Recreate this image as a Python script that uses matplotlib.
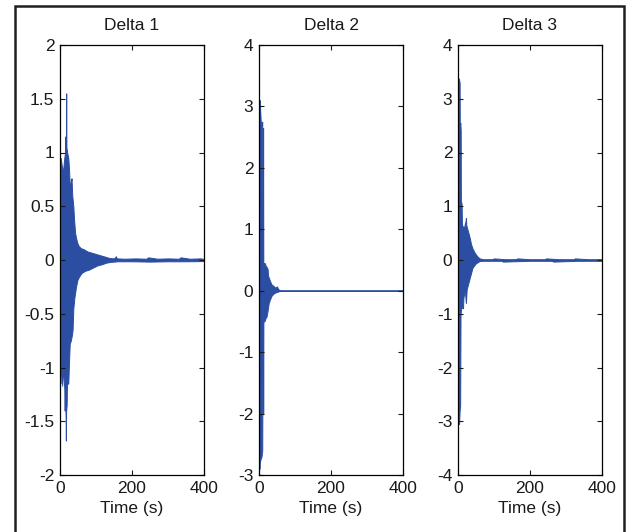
import numpy as np
import matplotlib.pyplot as plt
from matplotlib.patches import Rectangle

# Envelope of the three responses (time in s, value)
# Delta 1
d1_t_up = [0, 2, 4, 6, 9, 12, 14, 15, 16, 16.6, 17.2, 17.8, 20, 23, 25, 27, 30, 32, 34, 37, 39,
           42, 45, 48, 52, 58, 66, 76, 86, 96, 106, 116, 126, 136, 148, 152, 155, 158, 180,
           210, 240, 245, 270, 300, 330, 335, 360, 390, 400]
d1_up = [0.9, 0.95, 0.9, 0.85, 0.85, 0.95, 1.0, 1.15, 1.0, 1.1, 1.55, 1.05, 1.0, 0.95, 0.85,
         0.7, 0.72, 0.76, 0.6, 0.5, 0.38, 0.25, 0.2, 0.16, 0.13, 0.11, 0.1, 0.08, 0.07, 0.06,
         0.05, 0.04, 0.03, 0.02, 0.015, 0.02, 0.035, 0.015, 0.012, 0.015, 0.012, 0.025, 0.012,
         0.015, 0.012, 0.025, 0.012, 0.015, 0.01]
d1_t_lo = [0, 1, 2, 4, 6, 8, 10, 12, 13, 14, 15.5, 16.3, 17, 18.5, 19.5, 21, 23, 25, 27, 30,
           33, 35, 37, 40, 44, 48, 52, 60, 70, 80, 92, 104, 116, 128, 140, 160, 200, 250, 300,
           350, 400]
d1_lo = [-0.7, -1.15, -0.8, -1.0, -1.17, -1.0, -1.1, -1.2, -1.4, -1.2, -1.45, -1.68, -1.4,
         -1.35, -1.1, -1.15, -1.15, -0.95, -0.78, -0.75, -0.7, -0.65, -0.45, -0.35, -0.26,
         -0.19, -0.16, -0.12, -0.1, -0.09, -0.07, -0.05, -0.04, -0.025, -0.018, -0.012, -0.012,
         -0.015, -0.012, -0.012, -0.01]

# Delta 2
d2_t_up = [0, 1.5, 2.5, 3.5, 5, 7, 9, 10, 10.8, 11.4, 12, 14, 16, 19, 22, 24, 25, 28, 31, 35,
           40, 45, 50, 53, 58, 400]
d2_up = [2.7, 2.8, 3.1, 2.9, 2.75, 2.7, 2.75, 0.5, 0.45, 2.65, 0.45, 0.45, 0.45, 0.4, 0.38,
         0.35, 0.25, 0.2, 0.15, 0.1, 0.08, 0.05, 0.07, 0.03, 0.004, 0.004]
d2_t_lo = [0, 1, 2, 4, 7, 9, 10, 11, 11.6, 12.2, 15, 18, 21, 24, 27, 30, 35, 40, 45, 50, 58, 400]
d2_lo = [-2.75, -2.9, -2.8, -2.75, -2.7, -2.6, -0.5, -0.5, -2.0, -0.5, -0.5, -0.45, -0.42,
         -0.32, -0.2, -0.15, -0.08, -0.05, -0.03, -0.02, -0.004, -0.004]

# Delta 3
d3_t_up = [0, 1.5, 3, 4.5, 5, 6.5, 7.5, 8, 10, 11, 14, 17, 19, 21, 22, 23, 25, 27, 30, 33, 36,
           40, 45, 50, 55, 60, 70, 95, 100, 130, 160, 165, 200, 240, 245, 280, 320, 325, 360,
           400]
d3_up = [3.3, 3.38, 3.35, 3.3, 2.5, 2.55, 2.4, 1.1, 1.05, 0.65, 0.62, 0.6, 0.68, 0.72, 0.78,
         0.65, 0.6, 0.55, 0.48, 0.4, 0.3, 0.22, 0.15, 0.1, 0.06, 0.03, 0.015, 0.015, 0.03,
         0.015, 0.015, 0.03, 0.015, 0.015, 0.03, 0.015, 0.015, 0.03, 0.015, 0.015]
d3_t_lo = [0, 1.5, 3, 4.5, 6, 7, 9, 12, 14, 15, 18, 20, 22, 24, 28, 32, 36, 40, 45, 50, 55, 60,
           70, 120, 125, 200, 260, 265, 330, 400]
d3_lo = [-2.8, -2.9, -3.05, -2.8, -2.7, -1.0, -0.9, -0.88, -0.9, -0.7, -0.6, -0.65, -0.8,
         -0.55, -0.45, -0.35, -0.25, -0.15, -0.1, -0.06, -0.04, -0.02, -0.015, -0.015, -0.03,
         -0.015, -0.015, -0.03, -0.015, -0.015]

titles = ["Delta 1", "Delta 2", "Delta 3"]
ylims = [(-2, 2), (-3, 4), (-4, 4)]
yticks = [np.arange(-2, 2.01, 0.5), np.arange(-3, 4.01, 1), np.arange(-4, 4.01, 1)]
xticks = [0, 200, 400]
series = [(d1_t_up, d1_up, d1_t_lo, d1_lo),
          (d2_t_up, d2_up, d2_t_lo, d2_lo),
          (d3_t_up, d3_up, d3_t_lo, d3_lo)]

plt.rcParams['font.family'] = ['Liberation Sans', 'DejaVu Sans']
fs = 12.5

col = "#2b4ea2"
fig = plt.figure(figsize=(6.27, 5.32), dpi=100)

lefts = [60, 259, 458]
for i in range(3):
    ax = fig.add_axes([lefts[i] / 627, 57 / 532, 144 / 627, 430 / 532])
    tu, up, tl, lo = series[i]
    ax.fill_between(tu, 0, up, color=col, lw=0.7, edgecolor=col)
    ax.fill_between(tl, lo, 0, color=col, lw=0.7, edgecolor=col)
    ax.set_xlim(0, 400)
    ax.set_ylim(*ylims[i])
    ax.set_xticks(xticks)
    ax.set_yticks(yticks[i])
    ax.set_yticklabels([f"{v:g}" for v in yticks[i]])
    ax.tick_params(direction="in", length=3.6, width=0.8, top=True, right=True,
                   pad=4, labelsize=fs, colors="#1a1a1a")
    for s in ax.spines.values():
        s.set_linewidth(0.9)
    ax.set_title(titles[i], fontsize=fs, pad=10.5, color="#1a1a1a")
    ax.set_xlabel("Time (s)", fontsize=fs, labelpad=4, color="#1a1a1a")

# frame around the whole figure
fig.patches.append(Rectangle((15 / 627, -0.05), 609 / 627, 1.05 - 6 / 532,
                             transform=fig.transFigure, fill=False,
                             edgecolor="#231f20", lw=1.8))

fig.savefig("out.png", dpi=100)
